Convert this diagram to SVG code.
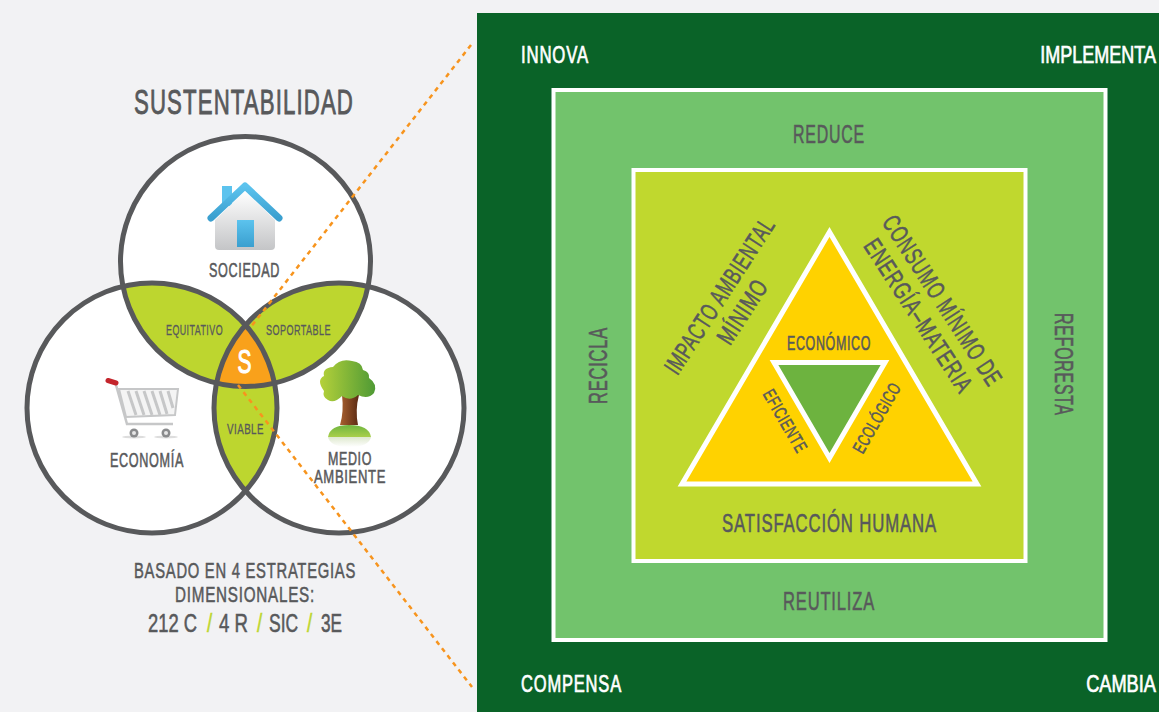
<svg xmlns="http://www.w3.org/2000/svg" width="1159" height="712" viewBox="0 0 1159 712">
<style>
text{font-family:"Liberation Sans",Arial,sans-serif;fill:#58595b;stroke:#58595b;stroke-width:.55;text-anchor:middle;font-weight:400;letter-spacing:.05em}
.w{fill:#fff;stroke:#fff;stroke-width:.7}
.sm{stroke-width:.3}
.e{text-anchor:end;letter-spacing:0}
.c{text-anchor:start;letter-spacing:0;font-size:25px}
.ring{fill:none;stroke:#58595b;stroke-width:5}
.sq{stroke:#fff;stroke-width:4}
.tri{stroke:#fff;stroke-width:5;stroke-linejoin:miter}
.dash{fill:none;stroke:#f7941d;stroke-width:2.500;stroke-dasharray:4.500 4.500}
text.sl{fill:#bdd62f;stroke:#bdd62f}
</style>
<defs>
<clipPath id="cT"><circle cx="245.500" cy="261.500" r="125"/></clipPath>
<clipPath id="cL"><circle cx="152" cy="408" r="125"/></clipPath>
<clipPath id="cLT" clip-path="url(#cT)"><circle cx="152" cy="408" r="125"/></clipPath>
<linearGradient id="gB" x1="0" y1="0" x2="0" y2="1"><stop offset="0" stop-color="#5cc3ee"/><stop offset="1" stop-color="#3a9fcf"/></linearGradient>
<linearGradient id="gH" x1="0" y1="0" x2="0" y2="1"><stop offset="0" stop-color="#fff"/><stop offset="1" stop-color="#c4c5c7"/></linearGradient>
<linearGradient id="gT" x1="0" y1="0" x2="1" y2="0"><stop offset="0" stop-color="#b5d13a"/><stop offset="1" stop-color="#4f9a35"/></linearGradient>
<linearGradient id="gK" x1="0" y1="0" x2="1" y2="0"><stop offset="0" stop-color="#a9602f"/><stop offset="1" stop-color="#5a2a14"/></linearGradient>
<linearGradient id="gG" x1="0" y1="0" x2="0" y2="1"><stop offset="0" stop-color="#6fb53f"/><stop offset="0.55" stop-color="#a9cf4a"/><stop offset="0.56" stop-color="#dfe9cf"/><stop offset="1" stop-color="#fff"/></linearGradient>
</defs>
<rect width="1159" height="712" fill="#f2f2f4"/>
<g id="panel">
<rect x="477" y="13" width="682" height="699" fill="#0a6328"/>
<text class="w" x="555" y="63" font-size="24" textLength="68" lengthAdjust="spacingAndGlyphs">INNOVA</text>
<text class="w e" transform="translate(1156,63) scale(.75,1)" font-size="24">IMPLEMENTA</text>
<text class="w" x="571.500" y="692" font-size="24" textLength="101" lengthAdjust="spacingAndGlyphs">COMPENSA</text>
<text class="w e" transform="translate(1156,692) scale(.76,1)" font-size="24">CAMBIA</text>
</g>
<g id="outer-square">
<rect class="sq" x="553.500" y="90" width="552" height="550" fill="#72c36c"/>
<text x="829" y="143" font-size="25" textLength="72" lengthAdjust="spacingAndGlyphs">REDUCE</text>
<text x="829" y="610" font-size="25" textLength="92" lengthAdjust="spacingAndGlyphs">REUTILIZA</text>
<text transform="translate(607,365.500) rotate(-90)" font-size="25" textLength="77" lengthAdjust="spacingAndGlyphs">RECICLA</text>
<text transform="translate(1055,364.500) rotate(90)" font-size="25" textLength="103" lengthAdjust="spacingAndGlyphs">REFORESTA</text>
</g>
<g id="inner-square">
<rect class="sq" x="633.500" y="170" width="392" height="391" fill="#c0d82e"/>
<text x="829.500" y="532" font-size="25" textLength="215" lengthAdjust="spacingAndGlyphs">SATISFACCIÓN HUMANA</text>
<text transform="translate(720,296) rotate(-57) translate(0,8)" font-size="25" textLength="181" lengthAdjust="spacingAndGlyphs">IMPACTO AMBIENTAL</text>
<text transform="translate(743,312) rotate(-57) translate(0,8)" font-size="25" textLength="72" lengthAdjust="spacingAndGlyphs">MÍNIMO</text>
<text transform="translate(942,301) rotate(57) translate(0,8)" font-size="25" textLength="198" lengthAdjust="spacingAndGlyphs">CONSUMO MÍNIMO DE</text>
<text transform="translate(918,316) rotate(57) translate(0,8)" font-size="25" textLength="178" lengthAdjust="spacingAndGlyphs">ENERGÍA–MATERIA</text>
</g>
<g id="triangle">
<polygon class="tri" points="829.500,232 977,484 682,484" fill="#ffd200"/>
<polygon class="tri" points="774,362.500 885,362.500 829.500,458" fill="#6db33f"/>
<text x="829" y="350" font-size="20" textLength="84" lengthAdjust="spacingAndGlyphs">ECONÓMICO</text>
<text transform="translate(785,421) rotate(60) translate(0,6)" font-size="18" textLength="70" lengthAdjust="spacingAndGlyphs">EFICIENTE</text>
<text transform="translate(877,418) rotate(-60) translate(0,6)" font-size="18" textLength="78" lengthAdjust="spacingAndGlyphs">ECOLÓGICO</text>
</g>
<g id="title"><text x="244" y="114" font-size="35" style="stroke-width:.9" textLength="220" lengthAdjust="spacingAndGlyphs">SUSTENTABILIDAD</text></g>
<g id="venn">
<circle cx="245.500" cy="261.500" r="125" fill="#fff"/>
<circle cx="152" cy="408" r="125" fill="#fff"/>
<circle cx="339" cy="408" r="125" fill="#fff"/>
<g clip-path="url(#cT)"><circle cx="152" cy="408" r="125" fill="#bdd62f"/><circle cx="339" cy="408" r="125" fill="#bdd62f"/></g>
<g clip-path="url(#cL)"><circle cx="339" cy="408" r="125" fill="#bdd62f"/></g>
<g clip-path="url(#cLT)"><circle cx="339" cy="408" r="125" fill="#f9a11b"/></g>
<circle class="ring" cx="245.500" cy="261.500" r="125"/>
<circle class="ring" cx="152" cy="408" r="125"/>
<circle class="ring" cx="339" cy="408" r="125"/>
</g>
<g id="sociedad">
<rect x="222" y="186" width="10" height="20" fill="#5cc3ee"/>
<path d="M215 220L245 191L275 220V246Q275 250 271 250H219Q215 250 215 246Z" fill="url(#gH)"/>
<rect x="237" y="220" width="17" height="27" fill="url(#gB)"/>
<path d="M211 218L245 186L279 218" fill="none" stroke="url(#gB)" stroke-width="7" stroke-linecap="round" stroke-linejoin="round"/>
<text x="244.500" y="277" font-size="20" textLength="71" lengthAdjust="spacingAndGlyphs">SOCIEDAD</text>
</g>
<g id="equitativo"><text class="sm" x="194.500" y="335" font-size="14" textLength="57" lengthAdjust="spacingAndGlyphs">EQUITATIVO</text></g>
<g id="soportable"><text class="sm" x="298.500" y="335" font-size="14" textLength="65" lengthAdjust="spacingAndGlyphs">SOPORTABLE</text></g>
<g id="sustentable"><text class="w" x="245" y="373" font-size="34" style="stroke-width:1.2" textLength="15" lengthAdjust="spacingAndGlyphs">S</text></g>
<g id="viable"><text class="sm" x="245.500" y="434" font-size="14" textLength="37" lengthAdjust="spacingAndGlyphs">VIABLE</text></g>
<g id="economia">
<ellipse cx="134" cy="437" rx="12" ry="1.500" fill="#ddd"/><ellipse cx="166" cy="437" rx="12" ry="1.500" fill="#ddd"/>
<path d="M116 385L127 424H173" fill="none" stroke="#c6c7c8" stroke-width="2.500"/>
<path d="M119 389H178L175 415L126 417Z" fill="#f4f4f4" stroke="#c6c7c8" stroke-width="2"/>
<path d="M128 391L136 415M136 391L144 415M144 391L152 415M152 391L160 415M160 391L167 414M168 391L173 408" stroke="#c6c7c8" stroke-width="3" fill="none"/>
<circle cx="134" cy="433" r="4.500" fill="#8a8b8d"/><circle cx="166" cy="433" r="4.500" fill="#8a8b8d"/>
<circle cx="134" cy="433" r="2" fill="#e6e6e6"/><circle cx="166" cy="433" r="2" fill="#e6e6e6"/>
<path d="M108 380.500L116 383" stroke="#c4252c" stroke-width="5" stroke-linecap="round"/>
<text x="147" y="467" font-size="20" textLength="74" lengthAdjust="spacingAndGlyphs">ECONOMÍA</text>
</g>
<g id="medio-ambiente">
<path d="M342 395Q344 412 340 425H358Q355 410 359 395Z" fill="url(#gK)"/>
<path d="M324 391Q316 380 324 376Q322 368 333 367Q340 358 352 361Q362 362 363 370Q370 372 369 378Q378 384 374 393Q368 400 358 395Q350 402 342 396Q334 404 328 400Q322 397 324 391Z" fill="url(#gT)"/>
<path d="M328 437Q330 425 349 425Q369 425 371 437Q369 447 349 447Q330 447 328 437Z" fill="url(#gG)"/>
<text x="350" y="464.500" font-size="18.500" textLength="44" lengthAdjust="spacingAndGlyphs">MEDIO</text>
<text x="350" y="482.500" font-size="18.500" textLength="72" lengthAdjust="spacingAndGlyphs">AMBIENTE</text>
</g>
<g id="connectors">
<path class="dash" d="M471 45L250 328"/>
<path class="dash" d="M238 385L472 687"/>
</g>
<g id="caption">
<text x="245" y="578" font-size="22" textLength="222" lengthAdjust="spacingAndGlyphs">BASADO EN 4 ESTRATEGIAS</text>
<text x="245" y="602" font-size="22" textLength="140" lengthAdjust="spacingAndGlyphs">DIMENSIONALES:</text>
<text class="c" transform="translate(148,632) scale(.735,1)">212 C</text>
<text class="c sl" transform="translate(207,632) scale(.75,1)">/</text>
<text class="c" transform="translate(219,632) scale(.745,1)">4 R</text>
<text class="c sl" transform="translate(257,632) scale(.75,1)">/</text>
<text class="c" transform="translate(269,632) scale(.7,1)">SIC</text>
<text class="c sl" transform="translate(307,632) scale(.75,1)">/</text>
<text class="c" transform="translate(321,632) scale(.69,1)">3E</text>
</g>
</svg>
